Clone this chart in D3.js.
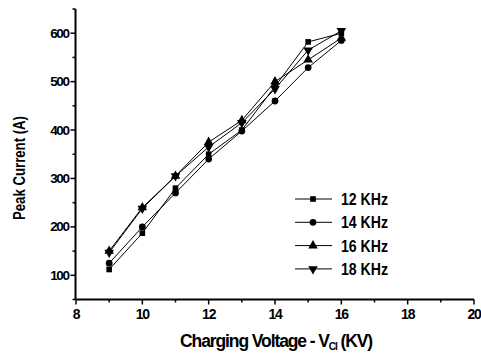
<!DOCTYPE html>
<html><head><meta charset="utf-8">
<script src="https://cdn.jsdelivr.net/npm/d3@7"></script>
<style>
body{margin:0;background:#fff;}
text{font-family:"Liberation Sans Narrow","Arial Narrow","Liberation Sans",sans-serif;font-weight:bold;fill:#000;}
</style></head>
<body><svg id="c" width="481" height="353"></svg>
<script>
const voltages = [9, 10, 11, 12, 13, 14, 15, 16];
const seriesNames = ["12 KHz", "14 KHz", "16 KHz", "18 KHz"];
const s12 = [112, 187, 280, 350, 400, 490, 582, 600];
const s14 = [125, 200, 270, 340, 398, 460, 529, 585];
const s16 = [150, 240, 305, 375, 420, 500, 545, 590];
const s18 = [147, 238, 305, 365, 415, 485, 565, 605];
const xTicks = [8, 10, 12, 14, 16, 18, 20];
const yTicks = [100, 200, 300, 400, 500, 600];

const series = [
  {name: seriesNames[0], vals: s12, sym: d3.symbolSquare},
  {name: seriesNames[1], vals: s14, sym: d3.symbolCircle},
  {name: seriesNames[2], vals: s16, sym: d3.symbolTriangle},
  {name: seriesNames[3], vals: s18, sym: "down"}
];

const svg = d3.select("#c");
const x = d3.scaleLinear().domain([8, 20]).range([76, 474]);
const y = d3.scaleLinear().domain([50, 650]).range([299.5, 9]);

// axes
const xAxis = svg.append("g").attr("transform", "translate(0,299.5)");
xAxis.append("line").attr("x1", x(8)).attr("x2", x(20)).attr("stroke", "#000").attr("stroke-width", 2);
xAxis.selectAll(".mt").data(d3.range(8, 20.01, 1)).enter().append("line")
  .attr("x1", d => x(d)).attr("x2", d => x(d)).attr("y1", 0)
  .attr("y2", d => d % 2 === 0 ? 5 : 3).attr("stroke", "#000").attr("stroke-width", 1.5);
xAxis.selectAll(".tl").data(xTicks).enter().append("text")
  .attr("x", d => x(d)).attr("y", 19).attr("text-anchor", "middle")
  .attr("font-size", 14).attr("letter-spacing", -1.2).text(d => d);

const yAxis = svg.append("g").attr("transform", "translate(75.5,0)");
yAxis.append("line").attr("y1", y(50)).attr("y2", y(650)).attr("stroke", "#000").attr("stroke-width", 2);
yAxis.selectAll(".mt").data(d3.range(50, 650.01, 50)).enter().append("line")
  .attr("y1", d => y(d)).attr("y2", d => y(d)).attr("x1", 0)
  .attr("x2", d => d % 100 === 0 ? -5 : -3).attr("stroke", "#000").attr("stroke-width", 1.5);
yAxis.selectAll(".tl").data(yTicks).enter().append("text")
  .attr("x", -7).attr("y", d => y(d) + 4.5).attr("text-anchor", "end")
  .attr("font-size", 13.5).attr("letter-spacing", -1.4).text(d => d);

// titles
svg.append("text").attr("transform", "translate(25,168) rotate(-90)")
  .attr("text-anchor", "middle").attr("font-size", 17)
  .attr("textLength", 104).attr("lengthAdjust", "spacingAndGlyphs")
  .text("Peak Current (A)");

const xt = svg.append("text").attr("x", 276).attr("y", 347).attr("text-anchor", "middle")
  .attr("font-size", 17.5).attr("letter-spacing", -1.1);
xt.append("tspan").text("Charging Voltage - V");
xt.append("tspan").attr("font-size", 10).attr("dy", 3).text("CI");
xt.append("tspan").attr("dy", -3).text(" (KV)");

function addMarker(g, s, cx, cy) {
  const type = s.sym === "down" ? d3.symbolTriangle : s.sym;
  const size = s.sym === d3.symbolCircle ? 36 : (s.sym === d3.symbolSquare ? 32 : 40);
  g.append("path").attr("d", d3.symbol().type(type).size(size)())
    .attr("transform", `translate(${cx},${cy})` + (s.sym === "down" ? " rotate(180)" : ""))
    .attr("fill", "#000");
}

const line = d3.line().x((d, i) => x(voltages[i])).y(d => y(d));
series.forEach(s => {
  const g = svg.append("g");
  g.append("path").attr("d", line(s.vals)).attr("fill", "none").attr("stroke", "#000").attr("stroke-width", 1);
  s.vals.forEach((v, i) => addMarker(g, s, x(voltages[i]), y(v)));
});

// legend
const lg = svg.append("g");
series.forEach((s, i) => {
  const ly = 199 + i * 23.3;
  lg.append("line").attr("x1", 295).attr("x2", 332).attr("y1", ly).attr("y2", ly)
    .attr("stroke", "#000").attr("stroke-width", 1);
  addMarker(lg, s, 313, ly);
  lg.append("text").attr("x", 341).attr("y", ly + 6).attr("font-size", 17)
    .attr("textLength", 47).attr("lengthAdjust", "spacingAndGlyphs").text(s.name);
});
</script></body></html>
